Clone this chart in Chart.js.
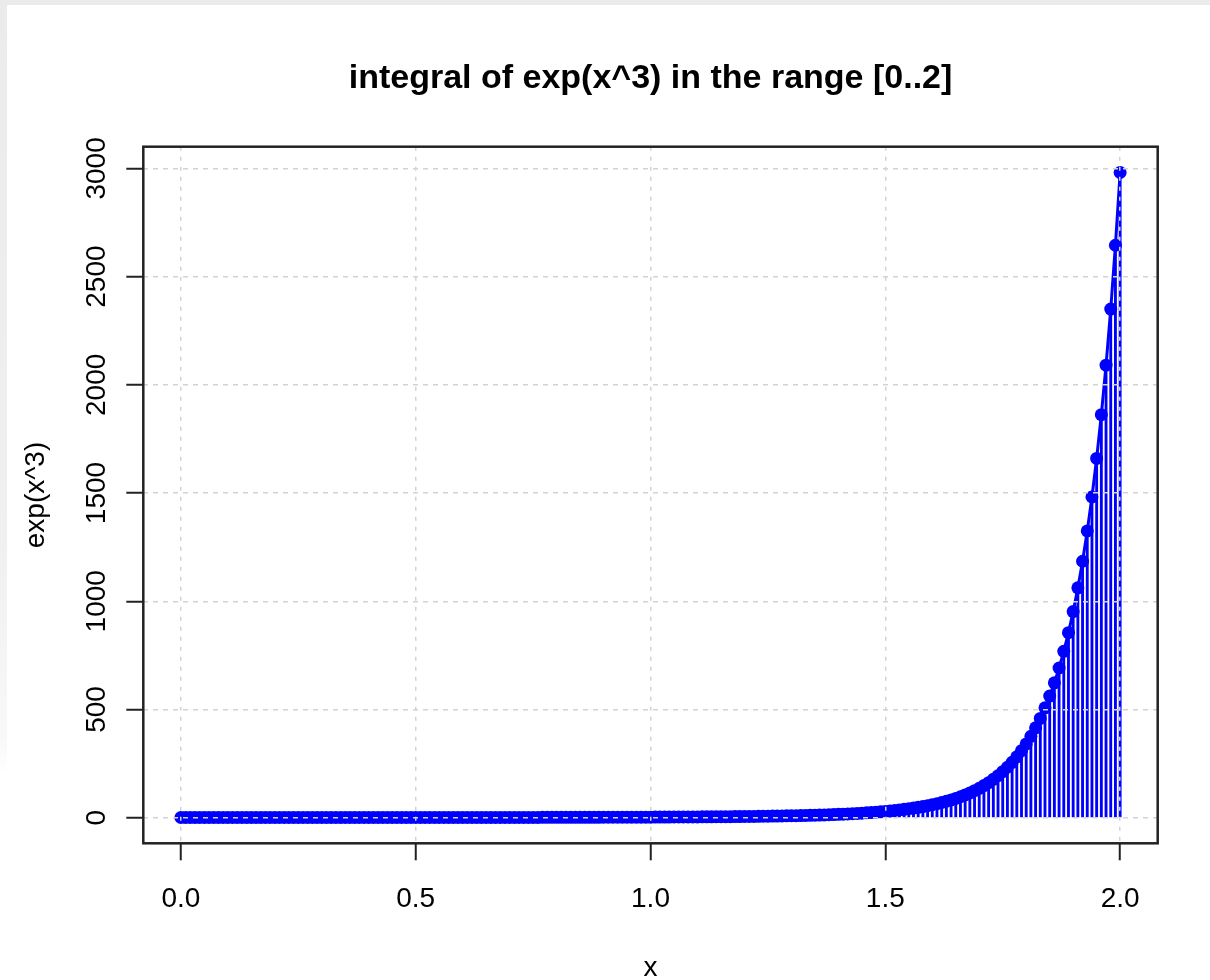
<!DOCTYPE html>
<html><head><meta charset="utf-8">
<script src="https://cdn.jsdelivr.net/npm/chart.js@4.4.1/dist/chart.umd.min.js"></script>
<style>
html,body{margin:0;padding:0;background:#fff;}
#wrap{position:relative;width:1210px;height:980px;overflow:hidden;background:#fff;}
#topband{position:absolute;left:0;top:0;width:1210px;height:5px;background:#ebebeb;}
#leftband{position:absolute;left:0;top:0;width:7px;height:775px;background:linear-gradient(#ebebeb 0%,#f0f0f0 70%,#f8f8f8 95%,#ffffff 100%);}
canvas{position:absolute;left:0;top:0;}
</style></head><body>
<div id="wrap"><div id="topband"></div><div id="leftband"></div><canvas id="c" width="1210" height="980"></canvas></div>
<script>
const chartTitle = "integral of exp(x^3) in the range [0..2]";
const xAxisTitle = "x";
const yAxisTitle = "exp(x^3)";

const xValues = [
0.00,0.01,0.02,0.03,0.04,0.05,0.06,0.07,0.08,0.09,
0.10,0.11,0.12,0.13,0.14,0.15,0.16,0.17,0.18,0.19,
0.20,0.21,0.22,0.23,0.24,0.25,0.26,0.27,0.28,0.29,
0.30,0.31,0.32,0.33,0.34,0.35,0.36,0.37,0.38,0.39,
0.40,0.41,0.42,0.43,0.44,0.45,0.46,0.47,0.48,0.49,
0.50,0.51,0.52,0.53,0.54,0.55,0.56,0.57,0.58,0.59,
0.60,0.61,0.62,0.63,0.64,0.65,0.66,0.67,0.68,0.69,
0.70,0.71,0.72,0.73,0.74,0.75,0.76,0.77,0.78,0.79,
0.80,0.81,0.82,0.83,0.84,0.85,0.86,0.87,0.88,0.89,
0.90,0.91,0.92,0.93,0.94,0.95,0.96,0.97,0.98,0.99,
1.00,1.01,1.02,1.03,1.04,1.05,1.06,1.07,1.08,1.09,
1.10,1.11,1.12,1.13,1.14,1.15,1.16,1.17,1.18,1.19,
1.20,1.21,1.22,1.23,1.24,1.25,1.26,1.27,1.28,1.29,
1.30,1.31,1.32,1.33,1.34,1.35,1.36,1.37,1.38,1.39,
1.40,1.41,1.42,1.43,1.44,1.45,1.46,1.47,1.48,1.49,
1.50,1.51,1.52,1.53,1.54,1.55,1.56,1.57,1.58,1.59,
1.60,1.61,1.62,1.63,1.64,1.65,1.66,1.67,1.68,1.69,
1.70,1.71,1.72,1.73,1.74,1.75,1.76,1.77,1.78,1.79,
1.80,1.81,1.82,1.83,1.84,1.85,1.86,1.87,1.88,1.89,
1.90,1.91,1.92,1.93,1.94,1.95,1.96,1.97,1.98,1.99,
2.00];

const yValues = [
1.00,1.00,1.00,1.00,1.00,1.00,1.00,1.00,1.00,1.00,
1.00,1.00,1.00,1.00,1.00,1.00,1.00,1.00,1.01,1.01,
1.01,1.01,1.01,1.01,1.01,1.02,1.02,1.02,1.02,1.02,
1.03,1.03,1.03,1.04,1.04,1.04,1.05,1.05,1.06,1.06,
1.07,1.07,1.08,1.08,1.09,1.10,1.10,1.11,1.12,1.12,
1.13,1.14,1.15,1.16,1.17,1.18,1.19,1.20,1.22,1.23,
1.24,1.25,1.27,1.28,1.30,1.32,1.33,1.35,1.37,1.39,
1.41,1.43,1.45,1.48,1.50,1.52,1.55,1.58,1.61,1.64,
1.67,1.70,1.74,1.77,1.81,1.85,1.89,1.93,1.98,2.02,
2.07,2.12,2.18,2.24,2.29,2.36,2.42,2.49,2.56,2.64,
2.72,2.80,2.89,2.98,3.08,3.18,3.29,3.40,3.52,3.65,
3.78,3.93,4.08,4.23,4.40,4.58,4.76,4.96,5.17,5.39,
5.63,5.88,6.15,6.43,6.73,7.05,7.39,7.76,8.14,8.56,
9.00,9.47,9.97,10.51,11.09,11.71,12.37,13.08,13.85,14.67,
15.55,16.50,17.52,18.62,19.81,21.09,22.47,23.96,25.58,27.33,
29.23,31.29,33.51,35.93,38.56,41.42,44.54,47.94,51.64,55.69,
60.10,64.93,70.21,75.99,82.34,89.30,96.95,105.4,114.6,124.8,
136.0,148.4,162.1,177.3,194.0,212.6,233.2,256.0,281.4,309.6,
341.0,376.1,415.1,458.7,507.5,562.1,623.2,691.7,768.6,855.1,
952.4,1062,1185,1325,1482,1660,1862,2091,2350,2645,
2981];

const xTicks = [0, 0.5, 1, 1.5, 2];
const xTickLabels = ["0.0", "0.5", "1.0", "1.5", "2.0"];
const yTicks = [0, 500, 1000, 1500, 2000, 2500, 3000];
const yTickLabels = ["0", "500", "1000", "1500", "2000", "2500", "3000"];
const xRange = [-0.08, 2.08];
const yRange = [-118.2, 3100.2];

const FONT = "'Liberation Sans', Arial, Helvetica, sans-serif";
const BLUE = '#0000ff';
const GRID = '#d3d3d3';
const AXIS = '#222222';

const points = xValues.map((x, i) => ({ x: x, y: yValues[i] }));

const boxPlugin = {
  id: 'plotBox',
  afterDraw(chart) {
    const { ctx, chartArea: a } = chart;
    ctx.save();
    ctx.strokeStyle = AXIS;
    ctx.lineWidth = 2.5;
    ctx.setLineDash([]);
    ctx.strokeRect(a.left, a.top, a.right - a.left, a.bottom - a.top);
    ctx.restore();
  }
};

new Chart(document.getElementById('c'), {
  type: 'line',
  data: {
    datasets: [
      {
        type: 'line',
        label: 'exp(x^3)',
        data: points,
        borderColor: BLUE,
        backgroundColor: BLUE,
        borderWidth: 3,
        tension: 0,
        pointRadius: 6.5,
        pointHoverRadius: 6.5,
        pointBackgroundColor: BLUE,
        pointBorderWidth: 0,
        order: 1
      },
      {
        type: 'bar',
        label: 'stems',
        data: points,
        backgroundColor: BLUE,
        borderWidth: 0,
        barThickness: 2.2,
        order: 2
      }
    ]
  },
  options: {
    responsive: false,
    devicePixelRatio: 1,
    animation: false,
    events: [],
    layout: { padding: { left: 0, right: 52.3, top: 0, bottom: 0 } },
    plugins: {
      legend: { display: false },
      tooltip: { enabled: false },
      title: {
        display: true,
        text: chartTitle,
        fullSize: false,
        color: '#000',
        font: { family: FONT, size: 34, weight: 'bold', lineHeight: 1.2 },
        padding: { top: 58.6, bottom: 47.3 }
      }
    },
    scales: {
      x: {
        type: 'linear',
        min: xRange[0],
        max: xRange[1],
        offset: false,
        afterBuildTicks: s => { s.ticks = xTicks.map(v => ({ value: v })); },
        afterFit: s => { s.height = 136.7; },
        grid: { z: 1, offset: false, color: GRID, lineWidth: 1.5, drawTicks: true, tickLength: 17, tickColor: AXIS, tickWidth: 2, tickBorderDash: [] },
        border: { display: false, dash: [4, 6] },
        ticks: {
          autoSkip: false, minRotation: 0, maxRotation: 0, padding: 22, color: '#000',
          font: { family: FONT, size: 28 },
          callback: (v, i) => xTickLabels[i]
        },
        title: {
          display: true, text: xAxisTitle, color: '#000',
          font: { family: FONT, size: 28, lineHeight: 0.86 },
          padding: { top: 0, bottom: 0 }
        }
      },
      y: {
        type: 'linear',
        min: yRange[0],
        max: yRange[1],
        afterBuildTicks: s => { s.ticks = yTicks.map(v => ({ value: v })); },
        afterFit: s => { s.width = 143.3; },
        grid: { z: 1, offset: false, color: GRID, lineWidth: 1.5, drawTicks: true, tickLength: 17, tickColor: AXIS, tickWidth: 2, tickBorderDash: [] },
        border: { display: false, dash: [5, 5] },
        ticks: {
          autoSkip: false, minRotation: 90, maxRotation: 90, crossAlign: 'center', padding: -2, color: '#000',
          font: { family: FONT, size: 28 },
          callback: (v, i) => yTickLabels[i]
        },
        title: {
          display: true, text: yAxisTitle, color: '#000',
          font: { family: FONT, size: 28, lineHeight: 1.2 },
          padding: { top: 19, bottom: 0 }
        }
      }
    }
  },
  plugins: [boxPlugin]
});
</script>
</body></html>
